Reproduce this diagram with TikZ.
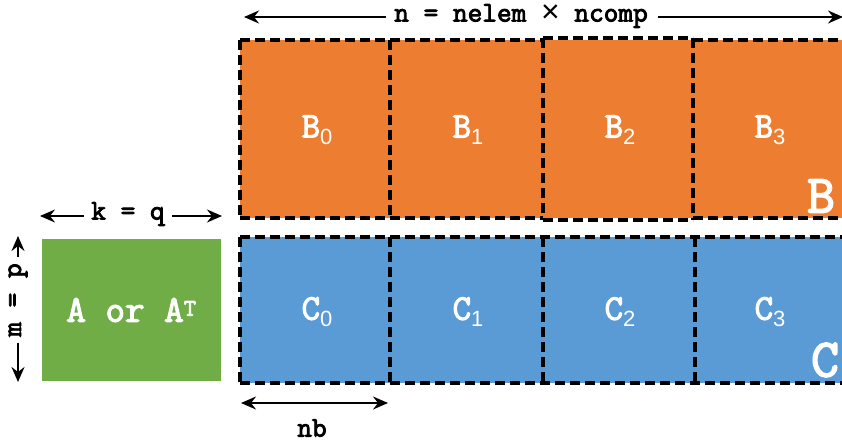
\documentclass[tikz,border=0pt]{standalone}
\usepackage{fontspec}
\newfontfamily\cour[AutoFakeBold=3]{Latin Modern Mono}
\newfontfamily\arl{Liberation Sans}
\usetikzlibrary{arrows.meta}
\definecolor{borange}{HTML}{ED7D31}
\definecolor{cblue}{HTML}{5B9BD5}
\definecolor{agreen}{HTML}{70AD47}
\newcommand{\lab}[2]{{\cour\bfseries\fontsize{36}{36}\selectfont #1}{\arl\fontsize{22}{22}\selectfont\raisebox{-7pt}{#2}}}
\tikzset{
  dash line/.style={draw=black, line width=3.3pt, dash pattern=on 10pt off 5pt},
  blab/.style={text=white, inner sep=0pt, anchor=center},
  dimtxt/.style={font=\cour\bfseries\fontsize{28.5}{28.5}\selectfont, inner sep=0pt},
  dimarr/.style={line width=2pt, -{Stealth[length=15pt,width=13pt,inset=5pt]}},
  dimarr2/.style={line width=2pt, {Stealth[length=15pt,width=13pt,inset=5pt]}-{Stealth[length=15pt,width=13pt,inset=5pt]}}
}
\begin{document}
\begin{tikzpicture}[x=1pt,y=-1pt]
\useasboundingbox (0,0) rectangle (842,444);
% fills
\fill[borange] (240,40) rectangle (842,218);
\fill[cblue] (240,237) rectangle (842,383);
\node[fill=agreen, minimum width=179pt, minimum height=142pt, inner sep=0pt] (A) at (131.5,310) {};
\node[text=white, font=\cour\bfseries\fontsize{38}{38}\selectfont] at (A.center) {A or A\textsuperscript{\raisebox{-3pt}{\fontsize{24}{24}\selectfont T}}};
% B boxes
\draw[dash line] (240,40) -- (390,40);
\draw[dash line] (390,40) -- (543,40);
\draw[dash line] (543,38) -- (693,38);
\draw[dash line] (693,40) -- (850,40);
\draw[dash line] (240,218) -- (390,218);
\draw[dash line] (390,218) -- (543,218);
\draw[dash line] (543,220) -- (693,220);
\draw[dash line] (693,218) -- (850,218);
\draw[dash line] (240,40) -- (240,218);
\draw[dash line] (390,40) -- (390,218);
\draw[dash line] (543,38) -- (543,220);
\draw[dash line] (693,38) -- (693,220);
\node[blab] (B0) at (317,130) {\lab{B}{0}};
\node[blab] (B1) at (468,130) {\lab{B}{1}};
\node[blab] (B2) at (620,130) {\lab{B}{2}};
\node[blab] (B3) at (770,130) {\lab{B}{3}};
\node[blab, font=\cour\bfseries\fontsize{54}{54}\selectfont] (Bbig) at (821,196) {B};
% C boxes
\draw[dash line] (240,237) -- (850,237);
\draw[dash line] (240,383) -- (850,383);
\draw[dash line] (240,237) -- (240,383);
\draw[dash line] (390,237) -- (390,383);
\draw[dash line] (543,237) -- (543,383);
\draw[dash line] (695,237) -- (695,383);
\node[blab] (C0) at (317,312) {\lab{C}{0}};
\node[blab] (C1) at (468,312) {\lab{C}{1}};
\node[blab] (C2) at (620,312) {\lab{C}{2}};
\node[blab] (C3) at (770,312) {\lab{C}{3}};
\node[blab, font=\cour\bfseries\fontsize{54}{54}\selectfont] (Cbig) at (825,360) {C};
% top dimension
\node[dimtxt] (n) at (521,16) {n = nelem \smash{\arl\mdseries\fontsize{32}{28}\selectfont\raisebox{-1pt}{×}} ncomp};
\coordinate (nl) at (244,17);
\coordinate (nr) at (843,17);
\draw[dimarr] ([xshift=-8pt]n.west |- nl) -- (nl);
\draw[dimarr] ([xshift=10pt]n.east |- nr) -- (nr);
% k = q
\node[dimtxt] (k) at (128,214) {k = q};
\coordinate (kl) at (40,216);
\coordinate (kr) at (222,216);
\draw[dimarr] ([xshift=-7pt]k.west |- kl) -- (kl);
\draw[dimarr] ([xshift=7pt]k.east |- kr) -- (kr);
% m = p
\node[dimtxt, rotate=90] (m) at (18,300) {m = p};
\coordinate (mt) at (18,236);
\coordinate (mb) at (18,382);
\draw[dimarr] (m.east) ++(0,-6) -- (mt);
\draw[dimarr] (m.west) ++(0,6) -- (mb);
% nb
\coordinate (nbl) at (241,403);
\coordinate (nbr) at (388,403);
\draw[dimarr2] (nbl) -- (nbr);
\node[dimtxt] (nb) at (312,428) {nb};
\end{tikzpicture}
\end{document}
